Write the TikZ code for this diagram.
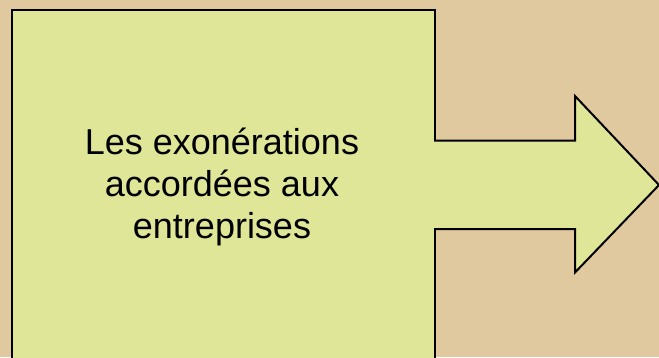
\documentclass[tikz,border=0pt]{standalone}
\usepackage{fontspec}
\setmainfont{Liberation Sans}
\usetikzlibrary{positioning}
\definecolor{sand}{HTML}{E0C99E}
\definecolor{lime}{HTML}{DFE698}

\begin{document}
\begin{tikzpicture}[x=1pt,y=1pt,line width=2pt,line join=miter,
    block/.style={draw,fill=lime,anchor=north west,minimum width=423.5pt,minimum height=370pt,inner sep=0pt},
    caption/.style={align=center,font=\fontsize{36}{42}\selectfont}]
  \fill[sand] (0,0) rectangle (659,357);
  \useasboundingbox (0,0) rectangle (659,357);
  \node[block] (box) at (10.5,347.5) {};
  \node[caption] (txt) at (222,170) {Les exonérations\\accordées aux\\entreprises};
  % arrow leaving the box
  \coordinate (a1) at (434,216.5);
  \coordinate (a2) at (575,216.5);
  \coordinate (a3) at (575,261);
  \coordinate (tip) at (659,172);
  \coordinate (a4) at (575,84.5);
  \coordinate (a5) at (575,128);
  \coordinate (a6) at (434,128);
  \fill[lime] ([xshift=-2pt]a1) -- (a2) -- (a3) -- (tip) -- (a4) -- (a5) -- ([xshift=-2pt]a6) -- cycle;
  \draw (a1) -- (a2) -- (a3) -- (tip) -- (a4) -- (a5) -- (a6);
\end{tikzpicture}
\end{document}
